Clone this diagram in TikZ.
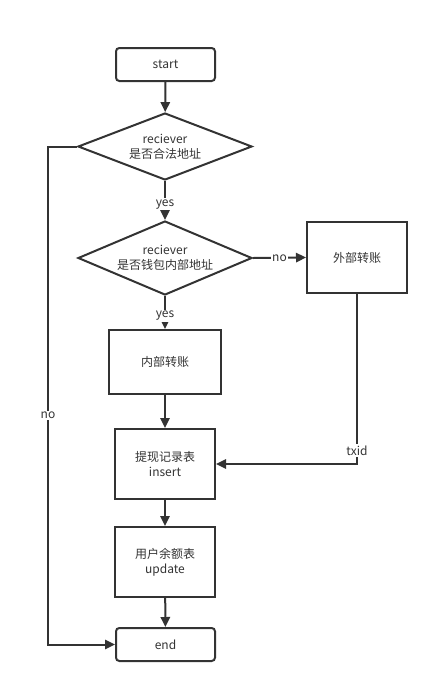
\documentclass[tikz,border=0pt]{standalone}
\usepackage{fontspec}
\setmainfont{Noto Sans CJK SC}
\usetikzlibrary{arrows.meta,shapes.geometric}
\definecolor{ln}{HTML}{333333}
\begin{document}
\begin{tikzpicture}[x=0.75pt,y=-0.75pt,
  every node/.style={font=\fontsize{9}{11.5}\selectfont, text=ln},
  boxnode/.style={draw=ln, line width=1.5pt, minimum width=100*0.75pt, align=center, inner sep=0pt},
  termnode/.style={boxnode, rounded corners=2.5pt, minimum height=33*0.75pt},
  decnode/.style={draw=ln, line width=1.5pt, diamond, aspect=2.6, inner sep=0pt, align=center},
  conn/.style={draw=ln, line width=1.5pt, -{Triangle[length=7.5pt,width=7pt]}},
  plain/.style={draw=ln, line width=1.5pt},
  lbl/.style={fill=white, inner sep=1pt}]
\useasboundingbox (0,0) rectangle (438,693);
\node[termnode, minimum width=99*0.75pt] (start) at (165.5,64.5) {start};
\node[decnode, minimum width=174*0.75pt, minimum height=67*0.75pt] (d1) at (165,146.5) {reciever\\是否合法地址};
\node[decnode, minimum width=174*0.75pt, minimum height=74*0.75pt] (d2) at (165,258) {reciever\\是否钱包内部地址};
\node[boxnode, minimum width=112*0.75pt, minimum height=64*0.75pt] (inner) at (165,362) {内部转账};
\node[boxnode, minimum width=100*0.75pt, minimum height=71*0.75pt] (outer) at (357,257.5) {外部转账};
\node[boxnode, minimum width=100*0.75pt, minimum height=70*0.75pt] (rec) at (165,464) {提现记录表\\insert};
\node[boxnode, minimum width=100*0.75pt, minimum height=70*0.75pt] (bal) at (165,562) {用户余额表\\update};
\node[termnode, minimum width=99*0.75pt] (end) at (165.5,644.5) {end};
\coordinate (lc1) at (48,146.5);
\coordinate (lc2) at (48,644.5);
\coordinate (rc) at (357,464);
\draw[conn] (start) -- (d1);
\draw[conn] (d1) -- node[lbl, pos=0.6] {yes} (d2);
\draw[conn] (d2) -- node[lbl, pos=0.6] {yes} (inner);
\draw[conn] (d2.east) -- node[lbl, pos=0.5] {no} (outer.west);
\draw[conn] (inner) -- (rec);
\draw[conn] (rec) -- (bal);
\draw[conn] (bal) -- (end);
\draw[conn] (d1.west) -- (lc1) -- node[lbl, pos=0.54] {no} (lc2) -- (end.west);
\draw[conn] (outer.south) -- node[lbl, pos=0.92] {txid} (rc) -- (rec.east);
\end{tikzpicture}
\end{document}
